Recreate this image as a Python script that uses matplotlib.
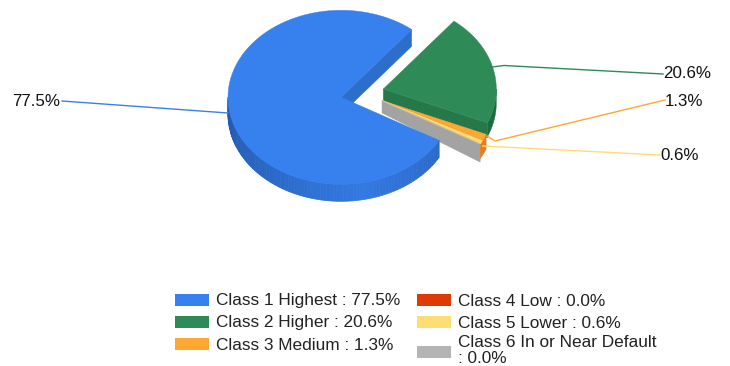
import numpy as np
import matplotlib
matplotlib.use("Agg")
import matplotlib.pyplot as plt
from matplotlib.patches import Polygon, Rectangle
from matplotlib.colors import to_rgb

# chart data
names = ["Class 1 Highest", "Class 2 Higher", "Class 3 Medium",
         "Class 4 Low", "Class 5 Lower", "Class 6 In or Near Default"]
values = [77.5, 20.6, 1.3, 0.0, 0.6, 0.0]
colors = ["#3681ee", "#2e8b57", "#ffa733", "#dd3a05", "#ffdd75", "#b4b4b4"]

plt.rcParams['font.family'] = ['Liberation Sans', 'DejaVu Sans']
fig = plt.figure(figsize=(7.3, 3.66), dpi=100)
ax = fig.add_axes([0, 0, 1, 1])
ax.set_xlim(0, 730)
ax.set_ylim(366, 0)
ax.axis('off')

RX, RY = 113, 87
START = -29.7


def arc(cx, cy, a0, a1, n=60):
    t = np.radians(np.linspace(a0, a1, n))
    return np.column_stack([cx + RX * np.cos(t), cy - RY * np.sin(t)])


def poly(pts, color, z=1, lw=0.3):
    ax.add_patch(Polygon(pts, closed=True, fc=color, ec=color, lw=lw, zorder=z))


def shift(pts, dy):
    return pts + np.array([0, dy])


# slice angles, clockwise from START; everything after blue wraps round once
ends = START - np.cumsum(values) * 360 / 100
starts = np.r_[START, ends[:-1]]
starts[1:] += 360
ends[1:] += 360

# green slice (exploded)
gx, gy = 383.3, 89
g_a, g_b = starts[1], ends[1]
rim = arc(gx, gy, g_b, 0, 30)
poly(np.vstack([rim, shift(rim, 14)[::-1]]), "#1d6b41", 2)
end_pt = arc(gx, gy, g_b, g_b, 1)
poly(np.vstack([[gx, gy], end_pt, shift(end_pt, 15), [gx, gy + 12]]), "#26784b", 3)
poly(np.vstack([[gx, gy], arc(gx, gy, g_a, g_b)]), colors[1], 4)

# small slices share one apex
sx, sy = 382, 100.5
last = arc(sx, sy, ends[5], ends[5], 1)
poly(np.vstack([[sx, sy], last, shift(last, 18.5), [sx, sy + 12.5]]), "#a3a3a3", 5)
rim = arc(sx, sy, ends[5], starts[2], 12)
poly(np.vstack([rim, shift(rim, 15)[::-1]]), "#e57f1d", 6)
for i, lw in zip([2, 4, 3, 5], [0.3, 0.8, 0.8, 0.5]):
    poly(np.vstack([[sx, sy], arc(sx, sy, starts[i], ends[i], 6)]), colors[i], 7 + i, lw)

# blue slice on top
bx, by = 341, 97.3
D = 17
c0, c1, c2 = [np.array(to_rgb(c)) for c in ("#2357a8", "#3379e2", "#2c69c6")]
edges = np.linspace(-180, starts[0], 90)
for a0, a1 in zip(edges[:-1], edges[1:]):
    seg = arc(bx, by, a0, a1, 3)
    mix = [np.interp((a0 + a1) / 2, [-180, -80, starts[0]], [p, q, r]) for p, q, r in zip(c0, c1, c2)]
    poly(np.vstack([seg, shift(seg, D)[::-1]]), tuple(mix), 15, 0.5)
cut = arc(bx, by, ends[0], ends[0], 1)
poly(np.vstack([[bx, by], cut, shift(cut, D), [bx, by + D]]), "#2d6ecb", 15)
poly(np.vstack([[bx, by], arc(bx, by, starts[0], ends[0], 200)]), colors[0], 16)

# leader lines and labels
leaders = [
    ([62, 101], [228, 113], None, "#3681ee", (12, 102)),
    ([492, 67], [663, 74], [504, 65.5], "#2e8b57", (663, 74)),
    ([487, 136], [665, 100], [495, 141], "#ffa733", (665, 101)),
    ([483, 146], [660, 155], None, "#ffdd75", (660, 155)),
]
for (p0, p1, mid, col, pos), v in zip(leaders, [values[0], values[1], values[2], values[4]]):
    pts = [p0] + ([mid] if mid else []) + [p1]
    xs, ys = zip(*pts)
    ax.plot(xs, ys, color=col, lw=1.0, zorder=20)
    ax.text(pos[0], pos[1], f"{v:.1f}%", fontsize=12.2, color="#111111", va='center', ha='left', zorder=21)

# legend
swatch_x = [175, 417]
text_x = [216, 458]
rows = [300, 322, 344, 300, 322, 352]
for i, name in enumerate(names):
    col = 0 if i < 3 else 1
    ax.add_patch(Rectangle((swatch_x[col], rows[i] - 6), 33.5, 12, fc=colors[i], ec='none'))
    label = f"{name} : {values[i]:.1f}%"
    y = rows[i] + 1
    if i == 5:
        label = f"{name}\n: {values[i]:.1f}%"
        y = rows[i] - 1.5
    ax.text(text_x[col], y, label, fontsize=12.4, color="#222222", va='center', ha='left', linespacing=1.1)

plt.savefig("out.png", dpi=100)
